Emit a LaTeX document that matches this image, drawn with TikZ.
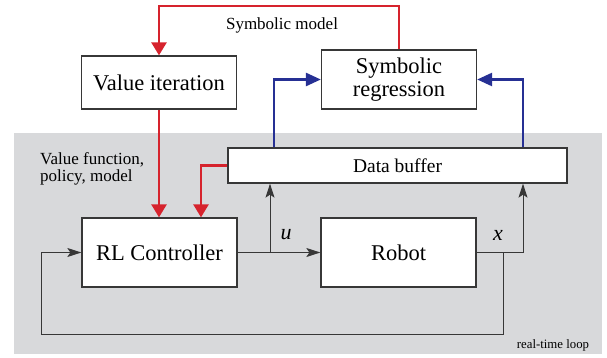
\documentclass[tikz,border=0pt]{standalone}
\usepackage{fontspec}
\setmainfont{Liberation Serif}
\usetikzlibrary{arrows.meta}

\definecolor{rlred}{RGB}{214,35,45}
\definecolor{rlblue}{RGB}{38,48,148}
\definecolor{bggray}{RGB}{216,217,219}
\definecolor{edgegray}{RGB}{55,55,55}

\begin{document}
\begin{tikzpicture}[
        x=1pt,
        y=-1pt,
        % 方框样式
        block/.style={draw=edgegray,line width=1.3pt,fill=white,inner sep=0pt,
            minimum width=155pt,align=center,font=\fontsize{22.5}{22.5}\selectfont},
        % 连线样式
        redarrow/.style={draw=rlred,line width=2.6pt,-{Triangle[length=13pt,width=15pt]}},
        bluearrow/.style={draw=rlblue,line width=2.6pt,-{Triangle[length=15pt,width=13pt]}},
        sig/.style={draw=edgegray,line width=1pt,-{Stealth[length=14pt,width=9pt,inset=3pt]}},
        loopline/.style={draw=edgegray,line width=1pt},
        label/.style={font=\fontsize{17}{17}\selectfont},
    ]
    \useasboundingbox (0,0) rectangle (607,358);

    % 实时回路的灰色背景
    \fill[bggray] (14,133) rectangle (602,354);

    % 方框
    \node[block,minimum height=53pt] (vi) at (159,82.5) {Value iteration};
    \node[block,minimum height=59pt] (sr) at (399,79.5) {Symbolic\\regression};
    \node[block,minimum width=339pt,minimum height=35pt,
          font=\fontsize{19.5}{19.5}\selectfont] (db) at (397.5,165.5) {Data buffer};
    \node[block,minimum height=69pt] (rl) at (159.5,252.5) {RL Controller};
    \node[block,minimum height=69pt] (rb) at (398.5,252.5) {Robot};

    % 辅助点
    \coordinate (top) at (280,6);
    \coordinate (ub) at (270,252.5);
    \coordinate (xb) at (503,252.5);
    \coordinate (lp) at (41,334);

    % 红色：模型与策略
    \draw[redarrow] (sr.north) |- (top) -| (vi.north);
    \draw[redarrow] (vi.south) -- (vi.south |- rl.north);
    \draw[redarrow] (db.west) -| ([xshift=41.5pt]rl.north);

    % 蓝色：数据送入符号回归
    \draw[bluearrow] ([xshift=-123.5pt]db.north) |- (sr.west);
    \draw[bluearrow] ([xshift=125.5pt]db.north) |- (sr.east);

    % 黑色：信号
    \draw[sig] (rl.east) -- (rb.west);
    \draw[sig] (ub) -- (ub |- db.south);
    \draw[sig] (rb.east) -| ([xshift=125.5pt]db.south);
    \draw[loopline] (xb) |- (lp);
    \draw[sig] (lp) |- (rl.west);

    % 标签
    \node[label] at (282,25) {Symbolic model};
    \node[label,anchor=north west,align=left,inner sep=0pt] at (40,152)
        {Value function,\\policy, model};
    \node[font=\fontsize{22}{22}\selectfont\itshape] at (286,235) {u};
    \node[font=\fontsize{22}{22}\selectfont\itshape] at (498,235) {x};
    \node[font=\fontsize{12.8}{12.8}\selectfont] at (553,345) {real-time loop};
\end{tikzpicture}
\end{document}
